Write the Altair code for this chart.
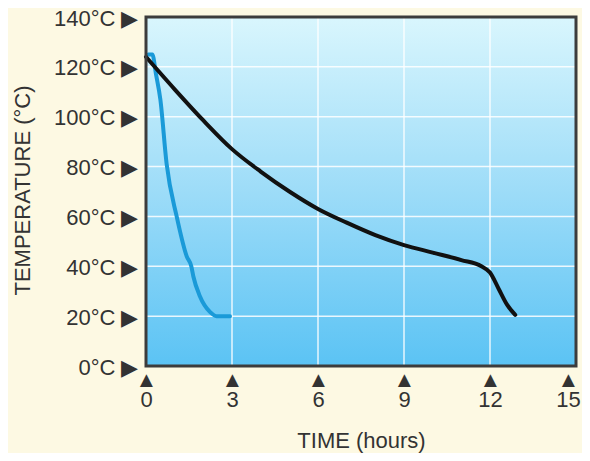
import altair as alt
import pandas as pd

# Black curve (slow cooling)
black_t = [0, 1, 2, 3, 4, 5, 6, 7, 8, 9, 10, 11, 11.7, 12.0, 12.3, 12.6, 12.88]
black_T = [124, 111, 98.5, 87, 78, 70, 63, 57.5, 52.5, 48.5, 45.5, 42.5, 40, 37.5, 31, 24.5, 20.5]

# Blue curve (fast cooling)
blue_t = [0.08, 0.22, 0.35, 0.5, 0.72, 1.07, 1.42, 1.58, 1.65, 1.88, 2.23, 2.46, 2.93]
blue_T = [125, 125, 117, 107, 81, 60, 44, 40, 36, 28, 21.7, 20, 20]

x_ticks = [0, 3, 6, 9, 12, 15]
y_ticks = [0, 20, 40, 60, 80, 100, 120, 140]
grid_x = [3, 6, 9, 12]
grid_y = [20, 40, 60, 80, 100, 120]

TEXT = "#333333"
FRAME = "#3c3c3c"
FONT = "Liberation Sans"

df_black = pd.DataFrame({"t": black_t, "T": black_T})
df_blue = pd.DataFrame({"t": blue_t, "T": blue_T})
df_gx = pd.DataFrame({"t": grid_x})
df_gy = pd.DataFrame({"T": grid_y})
one = pd.DataFrame({"a": [0]})

xscale = alt.Scale(domain=[0, 15], nice=False, zero=False)
yscale = alt.Scale(domain=[0, 140], nice=False, zero=False)

xaxis = alt.Axis(
    values=x_ticks, grid=False, domain=False, ticks=False, labelFlush=False,
    labelOverlap=False,
    labelExpr="['▲', datum.label]", labelFontSize=22, labelFont=FONT,
    labelColor=TEXT, labelPadding=3, labelLineHeight=20, labelBaseline="top",
    labelAlign="center",
    labelOffset={"condition": {"test": "datum.value == 15", "value": -8}, "value": 0},
    title="TIME (hours)", titleFontSize=22, titleFont=FONT, titleFontWeight="normal",
    titleColor=TEXT, titleY=74, titleBaseline="middle",
)
yaxis = alt.Axis(
    values=y_ticks, grid=False, domain=False, ticks=False, labelFlush=False,
    labelOverlap=False,
    labelExpr="datum.value + '°C ▶'", labelFontSize=22, labelFont=FONT,
    labelColor=TEXT, labelPadding=8, labelOffset=1,
    title="TEMPERATURE (°C)", titleFontSize=22, titleFont=FONT, titleFontWeight="normal",
    titleColor=TEXT, titleX=-124, titleY=173, titleAlign="center", titleBaseline="middle",
    titleAngle=-90,
)

grad = alt.Gradient(
    gradient="linear",
    stops=[
        alt.GradientStop(offset=0, color="#d9f6fd"),
        alt.GradientStop(offset=0.5, color="#9ddcf8"),
        alt.GradientStop(offset=1, color="#5bc3f4"),
    ],
    x1=0, x2=0, y1=0, y2=1,
)

bg = alt.Chart(one).mark_rect(color=grad).encode(
    x=alt.X(datum=0, type="quantitative", scale=xscale, axis=xaxis),
    x2=alt.X2(datum=15),
    y=alt.Y(datum=0, type="quantitative", scale=yscale, axis=yaxis),
    y2=alt.Y2(datum=140),
)

gx = alt.Chart(df_gx).mark_rule(color="white", strokeWidth=1.5, opacity=0.85).encode(
    x=alt.X("t:Q", scale=xscale)
)
gy = alt.Chart(df_gy).mark_rule(color="white", strokeWidth=1.5, opacity=0.85).encode(
    y=alt.Y("T:Q", scale=yscale)
)

line_blue = alt.Chart(df_blue).mark_line(
    color="#1a9ad8", strokeWidth=4, interpolate="monotone", strokeCap="round", strokeJoin="round"
).encode(x=alt.X("t:Q", scale=xscale), y=alt.Y("T:Q", scale=yscale))

line_black = alt.Chart(df_black).mark_line(
    color="#111111", strokeWidth=4, interpolate="monotone", strokeCap="round", strokeJoin="round"
).encode(x=alt.X("t:Q", scale=xscale), y=alt.Y("T:Q", scale=yscale))

frame = alt.Chart(one).mark_rect(filled=False, stroke=FRAME, strokeWidth=3).encode(
    x=alt.X(datum=0, type="quantitative", scale=xscale),
    x2=alt.X2(datum=15),
    y=alt.Y(datum=0, type="quantitative", scale=yscale),
    y2=alt.Y2(datum=140),
)

chart = alt.layer(bg, gx, gy, line_blue, line_black, frame).properties(
    width=430, height=349,
    autosize=alt.AutoSizeParams(type="none"),
    padding={"left": 138, "top": 9, "right": 6, "bottom": 87},
    background="#fdf9e3",
).configure_view(stroke=None)

chart.save("out.html", embed_options={"renderer": "svg", "actions": False})
